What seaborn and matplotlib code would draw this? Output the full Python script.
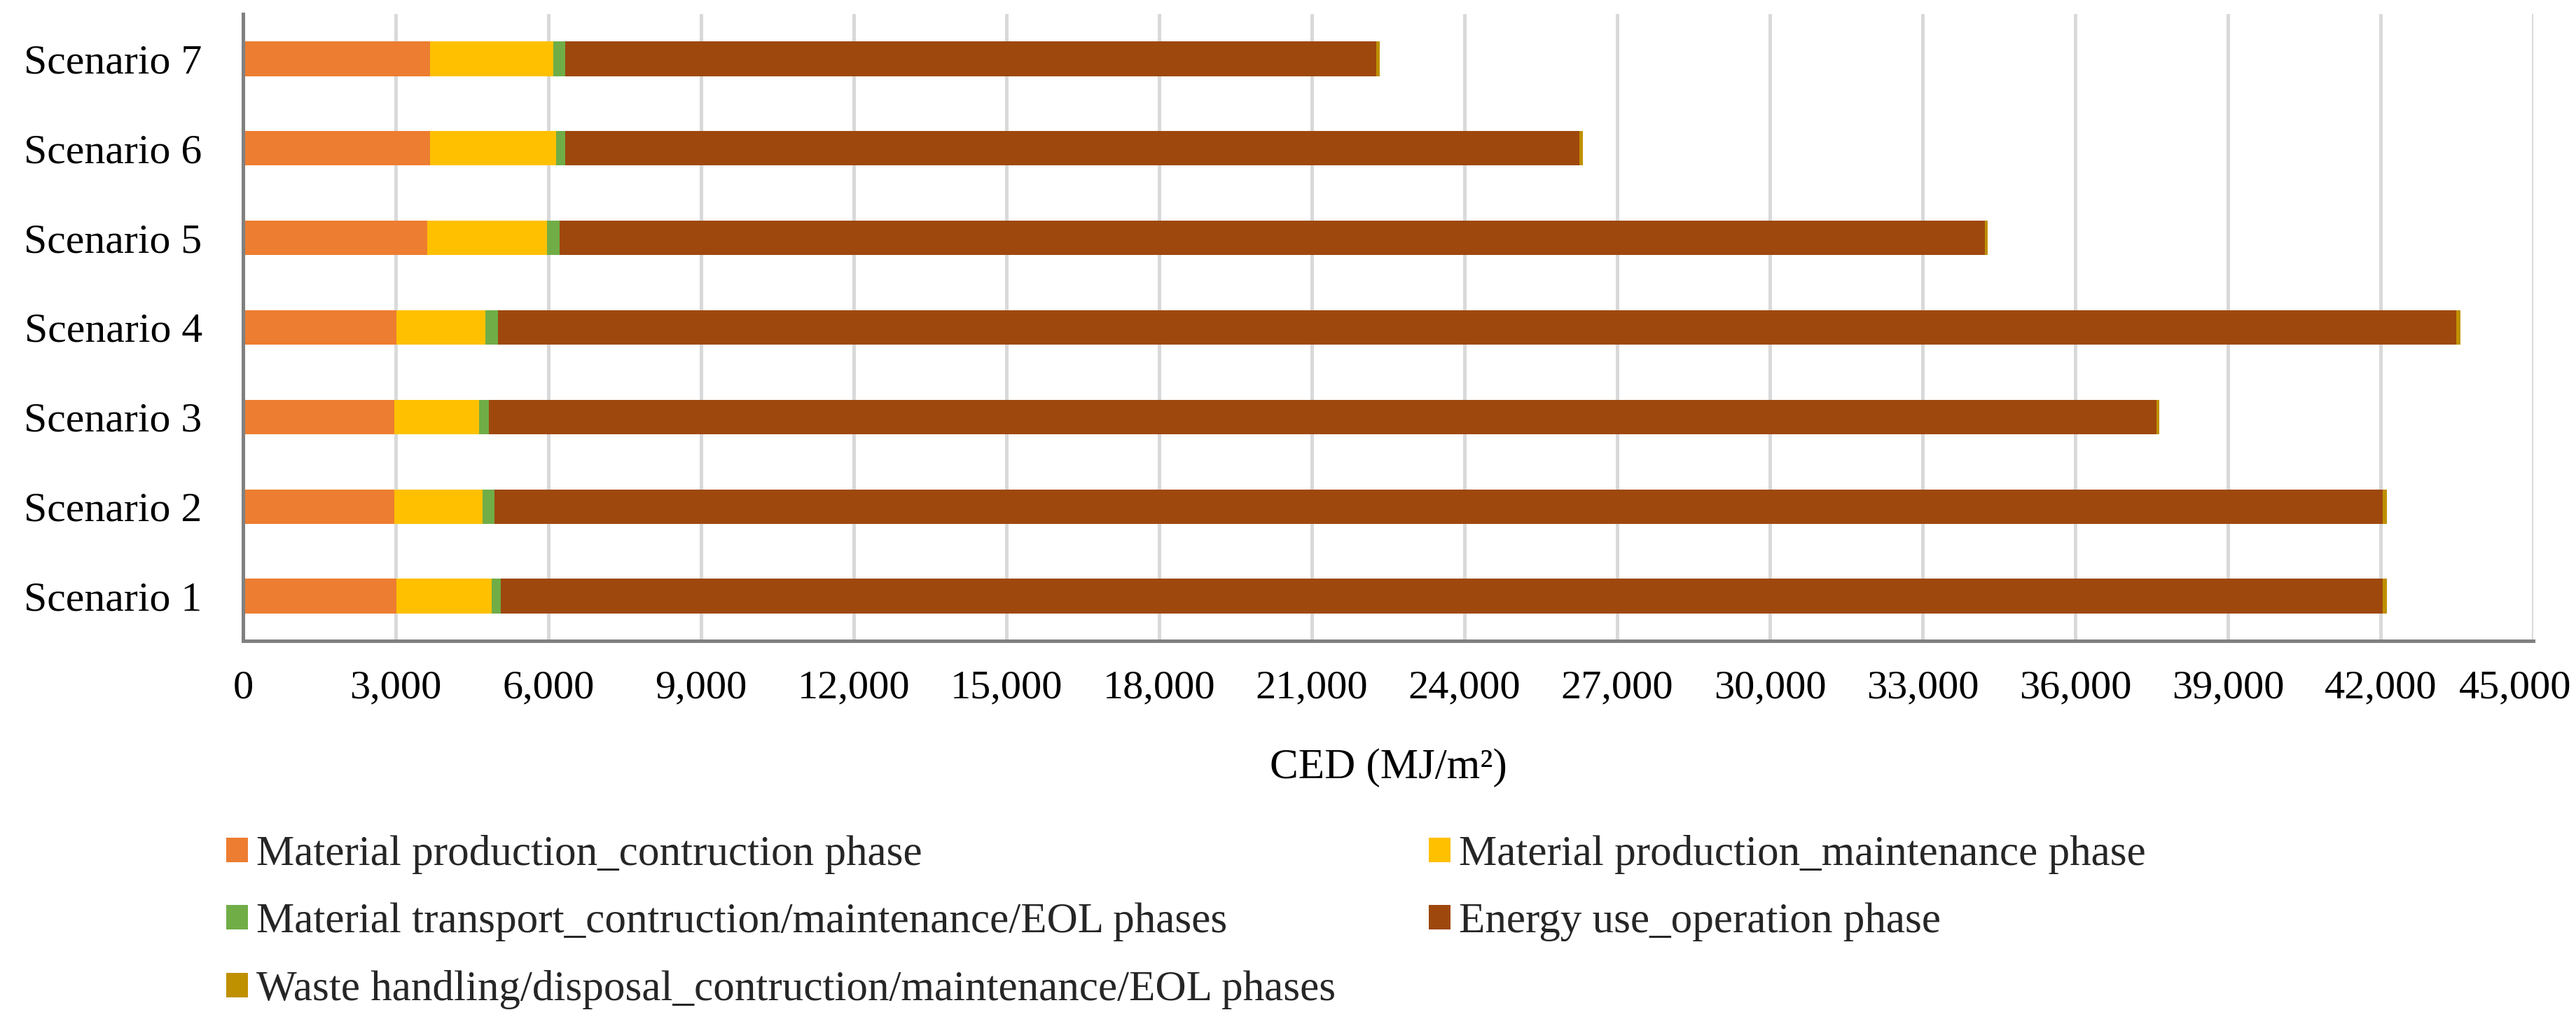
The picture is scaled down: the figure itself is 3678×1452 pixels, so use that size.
import matplotlib
matplotlib.use("Agg")
import matplotlib.pyplot as plt
import matplotlib.ticker as mticker
import matplotlib.transforms as mtransforms
from matplotlib.patches import Patch
import numpy as np
import pandas as pd
import seaborn as sns

# ---- data ----
scenarios = ["Scenario 1", "Scenario 2", "Scenario 3", "Scenario 4",
             "Scenario 5", "Scenario 6", "Scenario 7"]
mat_construction = [3020, 2967, 2967, 3020, 3624, 3680, 3678]
mat_maintenance = [1867, 1743, 1673, 1743, 2346, 2467, 2417]
transport = [180, 230, 190, 246, 246, 178, 230]
energy_operation = [36977, 37104, 32760, 38477, 28004, 19925, 15942]
waste_handling = [80, 80, 65, 84, 60, 80, 70]

series_names = [
    "Material production_contruction phase",
    "Material production_maintenance phase",
    "Material transport_contruction/maintenance/EOL phases",
    "Energy use_operation phase",
    "Waste handling/disposal_contruction/maintenance/EOL phases",
]
series_colors = ["#ED7D31", "#FFC000", "#70AD47", "#9E480E", "#BF9000"]
x_ticks = list(range(0, 45001, 3000))
x_label = "CED (MJ/m²)"

# ---- style ----
sns.set_theme(style="white")
plt.rcParams["font.family"] = ["Liberation Serif", "DejaVu Serif"]
FS = 44
FS_TICK = 42

W, H = 3678, 1452
fig = plt.figure(figsize=(W / 100, H / 100), dpi=100)
ax = fig.add_axes([347 / W, 1 - 915 / H, (3617 - 347) / W, (915 - 20) / H])

df = pd.DataFrame({
    "scenario": scenarios,
    "s0": mat_construction,
    "s1": mat_maintenance,
    "s2": transport,
    "s3": energy_operation,
    "s4": waste_handling,
})
cols = ["s0", "s1", "s2", "s3", "s4"]
cum = df[cols].cumsum(axis=1)
order = scenarios[::-1]

# draw cumulative layers from the longest to the shortest
for i in range(len(cols) - 1, -1, -1):
    d = pd.DataFrame({"scenario": df["scenario"], "value": cum[cols[i]]})
    sns.barplot(data=d, x="value", y="scenario", order=order, orient="h",
                color=series_colors[i], saturation=1, width=0.385,
                errorbar=None, ax=ax, zorder=3, linewidth=0)

ax.set_xlim(0, 45000)
ax.set_ylim(6.5, -0.5)
ax.set_xticks(x_ticks)
ax.xaxis.set_major_formatter(mticker.FuncFormatter(lambda v, p: f"{int(v):,}"))
ax.grid(axis="x", color="#D9D9D9", linewidth=3.6, zorder=0)
ax.grid(axis="y", visible=False)
ax.set_axisbelow(True)

for s in ["top", "right"]:
    ax.spines[s].set_visible(False)
for s in ["left", "bottom"]:
    ax.spines[s].set_color("#808080")
    ax.spines[s].set_linewidth(3.6)
    ax.spines[s].set_zorder(4)

ax.tick_params(axis="x", length=0, pad=30, labelsize=FS_TICK, labelcolor="black")
ax.tick_params(axis="y", length=0, pad=42, labelsize=43, labelcolor="black")
ax.set_ylabel("")
ax.set_xlabel(x_label, fontsize=FS, color="black", va="center")
ax.xaxis.set_label_coords(0.5, -(1096 - 915) / (915 - 20))

# keep the last tick label inside the figure (as in the reference)
fig.canvas.draw()
last = ax.xaxis.get_major_ticks()[-1].label1
last.set_transform(last.get_transform() +
                   mtransforms.ScaledTranslation(-26 / 100, 0, fig.dpi_scale_trans))

handles = [Patch(facecolor=c, edgecolor="none") for c in series_colors]
leg_kw = dict(frameon=False, fontsize=FS, loc="upper left", borderpad=0,
              borderaxespad=0, handlelength=0.5, handleheight=0.5,
              handletextpad=0.2, labelspacing=0.67)
leg1 = fig.legend([handles[0], handles[2], handles[4]],
                  [series_names[0], series_names[2], series_names[4]],
                  bbox_to_anchor=(323 / W, 1 - 1192 / H), **leg_kw)
leg2 = fig.legend([handles[1], handles[3]],
                  [series_names[1], series_names[3]],
                  bbox_to_anchor=(2040 / W, 1 - 1192 / H), **leg_kw)

fig.savefig("out.png", dpi=100, facecolor="white")
